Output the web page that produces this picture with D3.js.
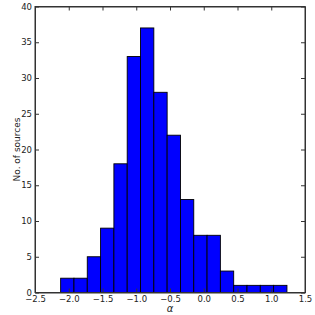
<!DOCTYPE html>
<html><head><meta charset="utf-8">
<script src="https://cdn.jsdelivr.net/npm/d3@7"></script>
<style>body{margin:0;background:#fff}svg{display:block}text{font-family:"DejaVu Sans",sans-serif}</style>
</head><body>
<script>
const binStart = -2.12;
const binWidth = 0.1972;
const counts = [2,2,5,9,18,33,37,28,22,13,8,8,3,1,1,1,1];
const xTicks = [-2.5,-2.0,-1.5,-1.0,-0.5,0.0,0.5,1.0,1.5];
const yTicks = [0,5,10,15,20,25,30,35,40];
const xLabel = "α";
const yLabel = "No. of sources";

const W = 315, H = 315;
const m = {l:35, r:10, t:6.5, b:22.5};
const svg = d3.select("body").append("svg").attr("width",W).attr("height",H);
const x = d3.scaleLinear().domain([-2.5,1.5]).range([m.l, W-m.r]);
const y = d3.scaleLinear().domain([0,40]).range([H-m.b, m.t]);

const bins = counts.map((c,i)=>({x0: binStart+i*binWidth, x1: binStart+(i+1)*binWidth, c}));
svg.append("g").selectAll("rect").data(bins).join("rect")
  .attr("x", d=>x(d.x0)).attr("width", d=>x(d.x1)-x(d.x0))
  .attr("y", d=>y(d.c)).attr("height", d=>y(0)-y(d.c))
  .attr("fill","#0000ff").attr("stroke","#000").attr("stroke-width",0.9);

const fmt = d => (d<0?"\u2212":"") + Math.abs(d).toFixed(1);
const tl = 4;
const gb = svg.append("g").attr("transform",`translate(0,${y(0)})`)
  .call(d3.axisBottom(x).tickValues(xTicks).tickFormat(fmt).tickSizeInner(-tl).tickSizeOuter(0).tickPadding(3));
const gt = svg.append("g").attr("transform",`translate(0,${y(40)})`)
  .call(d3.axisTop(x).tickValues(xTicks).tickFormat("").tickSizeInner(-tl).tickSizeOuter(0));
const gl = svg.append("g").attr("transform",`translate(${x(-2.5)},0)`)
  .call(d3.axisLeft(y).tickValues(yTicks).tickFormat(d3.format("d")).tickSizeInner(-tl).tickSizeOuter(0).tickPadding(3));
const gr = svg.append("g").attr("transform",`translate(${x(1.5)},0)`)
  .call(d3.axisRight(y).tickValues(yTicks).tickFormat("").tickSizeInner(-tl).tickSizeOuter(0));
[gb,gt,gl,gr].forEach(g=>{
  g.select(".domain").attr("stroke","#333").attr("stroke-width",1);
  g.selectAll(".tick line").attr("stroke","#333");
  g.selectAll("text").attr("font-size",8.5).attr("fill","#222").attr("font-family","DejaVu Sans");
});
svg.append("rect").attr("x",x(-2.5)).attr("y",y(40)).attr("width",x(1.5)-x(-2.5)).attr("height",y(0)-y(40))
  .attr("fill","none").attr("stroke","#333").attr("stroke-width",1);

svg.append("text").attr("x",(x(-2.5)+x(1.5))/2).attr("y",312).attr("text-anchor","middle")
  .attr("font-size",10).attr("font-style","italic").attr("fill","#222").text(xLabel);
svg.append("text").attr("transform",`translate(20,${(y(0)+y(40))/2}) rotate(-90)`)
  .attr("text-anchor","middle").attr("font-size",9).attr("fill","#222").text(yLabel);
</script>
</body></html>
